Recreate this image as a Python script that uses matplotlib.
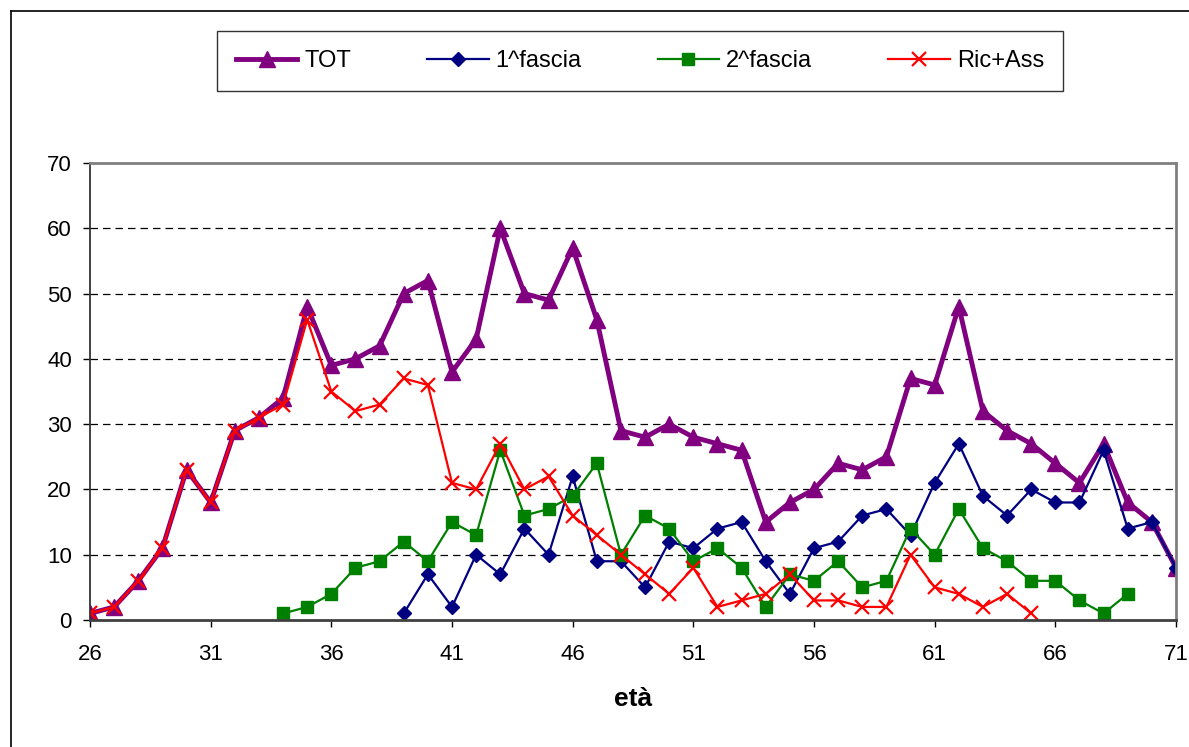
import numpy as np
import matplotlib.pyplot as plt
from matplotlib.lines import Line2D

plt.rcParams['font.family'] = ['Liberation Sans', 'DejaVu Sans']

# age classes
eta = np.arange(26, 72)

tot = [1, 2, 6, 11, 23, 18, 29, 31, 34, 48, 39, 40, 42, 50, 52, 38, 43, 60,
       50, 49, 57, 46, 29, 28, 30, 28, 27, 26, 15, 18, 20, 24, 23, 25, 37, 36,
       48, 32, 29, 27, 24, 21, 27, 18, 15, 8]

# 1^ fascia starts at 39
eta_f1 = np.arange(39, 72)
fascia1 = [1, 7, 2, 10, 7, 14, 10, 22, 9, 9, 5, 12, 11, 14, 15, 9, 4, 11, 12,
           16, 17, 13, 21, 27, 19, 16, 20, 18, 18, 26, 14, 15, 8]

# 2^ fascia from 34 to 69
eta_f2 = np.arange(34, 70)
fascia2 = [1, 2, 4, 8, 9, 12, 9, 15, 13, 26, 16, 17, 19, 24, 10, 16, 14, 9, 11,
           8, 2, 7, 6, 9, 5, 6, 14, 10, 17, 11, 9, 6, 6, 3, 1, 4]

# Ric+Ass from 26 to 65
eta_ra = np.arange(26, 66)
ric_ass = [1, 2, 6, 11, 23, 18, 29, 31, 33, 46, 35, 32, 33, 37, 36, 21, 20, 27,
           20, 22, 16, 13, 10, 7, 4, 8, 2, 3, 4, 7, 3, 3, 2, 2, 10, 5, 4, 2, 4, 1]

fig = plt.figure(figsize=(11.89, 7.47), dpi=100)
ax = fig.add_axes([90/1189, 1-620/747, (1176-90)/1189, (620-163)/747])

ax.plot(eta, tot, color='#800080', lw=3.5, marker='^', ms=11, label='TOT')
ax.plot(eta_f1, fascia1, color='#000080', lw=1.6, marker='D', ms=7.5, label='1^fascia')
ax.plot(eta_f2, fascia2, color='#008000', lw=1.6, marker='s', ms=8, label='2^fascia')
ax.plot(eta_ra, ric_ass, color='#FF0000', lw=1.6, marker='x', ms=10, mew=1.6, label='Ric+Ass')

ax.set_xlim(26, 71)
ax.set_ylim(0, 70)
ax.set_xticks(np.arange(26, 72, 5))
ax.set_yticks(np.arange(0, 71, 10))
ax.tick_params(axis='both', labelsize=16, length=5, width=1, direction='out')
ax.tick_params(axis='x', pad=12)
ax.tick_params(axis='y', pad=8)

for y in range(10, 70, 10):
    ax.axhline(y, color='black', lw=0.9, ls=(0, (6, 4)), zorder=0)

ax.spines['top'].set_color('#808080')
ax.spines['right'].set_color('#808080')
ax.spines['top'].set_linewidth(2)
ax.spines['right'].set_linewidth(2)
ax.spines['left'].set_color('#333333')
ax.spines['bottom'].set_color('#404040')
ax.spines['left'].set_linewidth(1.3)
ax.spines['bottom'].set_linewidth(2)

ax.set_xlabel('età', fontsize=19, fontweight='bold', labelpad=16)

leg = ax.legend(loc='lower left', ncol=4, mode='expand', fontsize=17,
                bbox_to_anchor=(217/1189, 1-91/747, (1063-217)/1189, 56/747),
                bbox_transform=fig.transFigure, frameon=True, fancybox=False,
                edgecolor='black', handlelength=2.6, handletextpad=0.3,
                borderpad=0.8, borderaxespad=0)
leg.get_frame().set_linewidth(1)

# outer chart frame
fig.add_artist(Line2D([11/1189, 11/1189], [1-11/747, 0], color='black', lw=1.2, transform=fig.transFigure))
fig.add_artist(Line2D([11/1189, 1], [1-11/747, 1-11/747], color='black', lw=1.2, transform=fig.transFigure))

plt.savefig('out.png', dpi=100)
